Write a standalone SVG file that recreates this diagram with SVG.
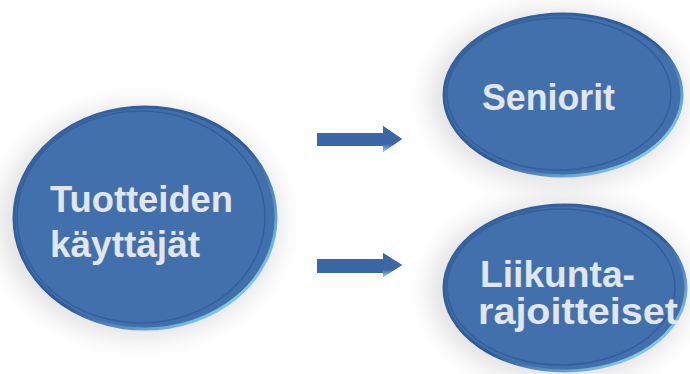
<svg xmlns="http://www.w3.org/2000/svg" width="690" height="374" viewBox="0 0 690 374">
  <defs>
    <filter id="shadow" x="-30%" y="-30%" width="160%" height="160%">
      <feGaussianBlur stdDeviation="12"/>
    </filter>
    <linearGradient id="rim" x1="0" y1="0" x2="1" y2="1">
      <stop offset="0" stop-color="#3a63a0"/>
      <stop offset="0.55" stop-color="#2f5a96"/>
      <stop offset="0.85" stop-color="#7fc6ea"/>
      <stop offset="1" stop-color="#4a82c0"/>
    </linearGradient>
    <linearGradient id="head" x1="0" y1="0" x2="0" y2="1">
      <stop offset="0" stop-color="#3b67a6"/>
      <stop offset="0.7" stop-color="#3b67a6"/>
      <stop offset="1" stop-color="#8fdcf2"/>
    </linearGradient>
  </defs>
  <style>
    .shadow { fill: #a8a8a8; opacity: 0.35; filter: url(#shadow); }
    .body { fill: #4170ad; stroke: url(#rim); stroke-width: 3; }
    .inner { fill: none; stroke: #2e5b97; stroke-width: 1.5; opacity: 0.8; }
    .label { font-family: "Liberation Sans", Arial, sans-serif; font-weight: bold; font-size: 36px; fill: #e2e6eb; }
    .arrow { fill: #3b67a6; }
  </style>
  <rect width="690" height="374" fill="#ffffff"/>

  <g id="node-tuotteiden">
    <ellipse class="shadow" cx="140" cy="222" rx="140" ry="116"/>
    <ellipse class="body" cx="145" cy="218" rx="131" ry="111"/>
    <ellipse class="inner" cx="141" cy="217" rx="124" ry="106"/>
    <text class="label" x="50" y="212" textLength="183" lengthAdjust="spacingAndGlyphs">Tuotteiden</text>
    <text class="label" x="50" y="257" textLength="150" lengthAdjust="spacingAndGlyphs">käyttäjät</text>
  </g>

  <g id="node-seniorit">
    <ellipse class="shadow" cx="558" cy="98" rx="128" ry="88"/>
    <ellipse class="body" cx="563" cy="95" rx="119" ry="81"/>
    <ellipse class="inner" cx="559" cy="94" rx="112" ry="76"/>
    <text class="label" x="482" y="110" textLength="133" lengthAdjust="spacingAndGlyphs">Seniorit</text>
  </g>

  <g id="node-liikunta">
    <ellipse class="shadow" cx="560" cy="291" rx="130" ry="90"/>
    <ellipse class="body" cx="565" cy="288" rx="121" ry="83"/>
    <ellipse class="inner" cx="561" cy="287" rx="114" ry="78"/>
    <text class="label" x="480" y="287" textLength="155" lengthAdjust="spacingAndGlyphs">Liikunta-</text>
    <text class="label" x="478" y="324" textLength="200" lengthAdjust="spacingAndGlyphs">rajoitteiset</text>
  </g>

  <g id="connectors">
    <polygon class="arrow" points="317,133 383,133 383,126 402,139 383,152 383,146 317,146"/>
    <polygon fill="url(#head)" points="383,126 402,139 383,152"/>
    <polygon class="arrow" points="317,259 383,259 383,253 402,265 383,277 383,273 317,273"/>
    <polygon fill="url(#head)" points="383,253 402,265 383,277"/>
  </g>
</svg>
